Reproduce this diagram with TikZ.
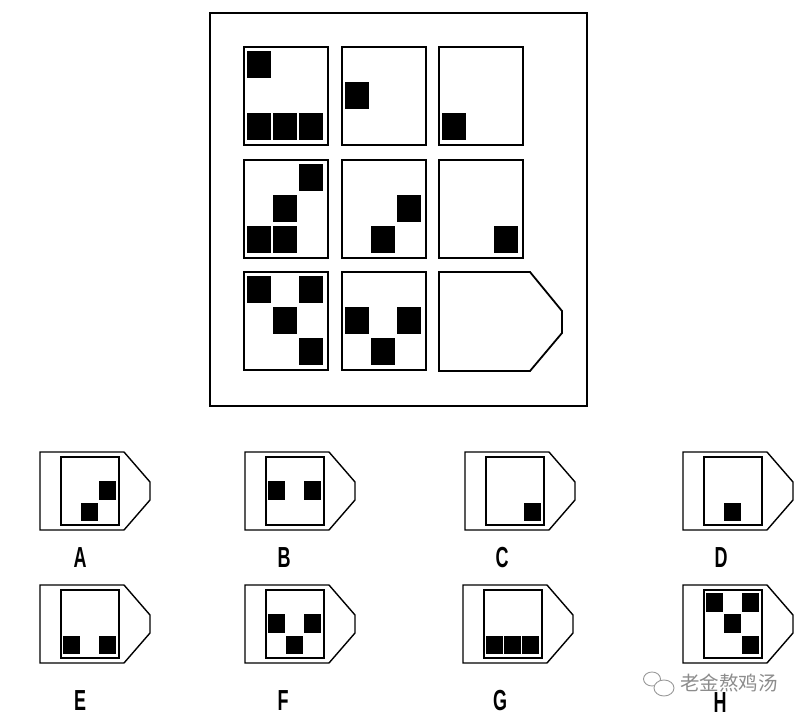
\documentclass[tikz,border=0pt]{standalone}
\usepackage{fontspec}
\newfontfamily\labelfont{Liberation Sans}
\newfontfamily\cjkfont{Noto Sans CJK SC}
\usetikzlibrary{calc}

\begin{document}
\begin{tikzpicture}[
				x=1pt, y=-1pt,
				rahmen/.style={draw=black, line width=1.8pt},
				feld/.style={draw=black, line width=1.8pt},
				antwort/.style={draw=black, line width=1.4pt},
				stein/.style={fill=black},
				buchstabe/.style={
						font=\labelfont\bfseries\fontsize{29}{29}\selectfont,
						xscale=0.62,
						inner sep=0pt,
					},
				zeichen/.style={
						font=\cjkfont\fontsize{19.5}{19.5}\selectfont,
						text=black!45,
						inner sep=0pt,
					},
			]
			\useasboundingbox (0,0) rectangle (807,719);

			% Äußerer Rahmen
			\draw[rahmen] (210,13) rectangle (587,406);

			% Acht Felder der Matrix (Spalte/Zeile der Steine)
			\foreach \x/\y/\steine in {
					244/47/{1/1,1/3,2/3,3/3},
					342/47/{1/2},
					439/47/{1/3},
					244/160/{3/1,2/2,1/3,2/3},
					342/160/{3/2,2/3},
					439/160/{3/3},
					244/272/{1/1,3/1,2/2,3/3},
					342/272/{1/2,3/2,2/3}} {
					\draw[feld] (\x,\y) rectangle ++(84,98);
					\foreach \c/\r in \steine
					\fill[stein] ({\x+3+26*(\c-1)},{\y+4+31*(\r-1)}) rectangle ++(24,27);
				}

			% Leeres Feld (Fünfeck)
			\draw[feld] (439,272) -- (530,272) -- (562,311) -- (562,333) -- (530,371) -- (439,371) -- cycle;

			% Antwortmöglichkeiten
			\foreach \x/\y/\steine in {
					40/452/{2/3,3/2},
					245/452/{1/2,3/2},
					465/452/{3/3},
					683/452/{2/3},
					40/585/{1/3,3/3},
					245/585/{1/2,3/2,2/3},
					463/585/{1/3,2/3,3/3},
					683/585/{1/1,3/1,2/2,3/3}} {
					\draw[antwort] (\x,\y) -- ++(84,0) -- ++(26,30) -- ++(0,18) -- ++(-26,30) -- ++(-84,0) -- cycle;
					\draw[antwort] ({\x+21},{\y+5}) rectangle ++(58,68);
					\foreach \c/\r in \steine
					\fill[stein] ({\x+23+18*(\c-1)},{\y+8+21.4*(\r-1)}) rectangle ++(16.6,18.6);
				}

			% Wasserzeichen
			\draw[black!40, line width=0.9pt] (652,679) ellipse (8.5 and 7);
			\draw[black!40, line width=0.9pt, fill=white] (664,688) ellipse (10 and 8);
			\node[zeichen] (wasserzeichen) at (729,683) {老金熬鸡汤};

			% Buchstaben
			\foreach \name/\x/\y in {A/80/558,B/284/558,C/502/558,D/721/558,E/80/701,F/283/701,G/500/701,H/720/703} {
					\node[buchstabe] (label\name) at (\x,\y) {\name};
				}

		\end{tikzpicture}
\end{document}
